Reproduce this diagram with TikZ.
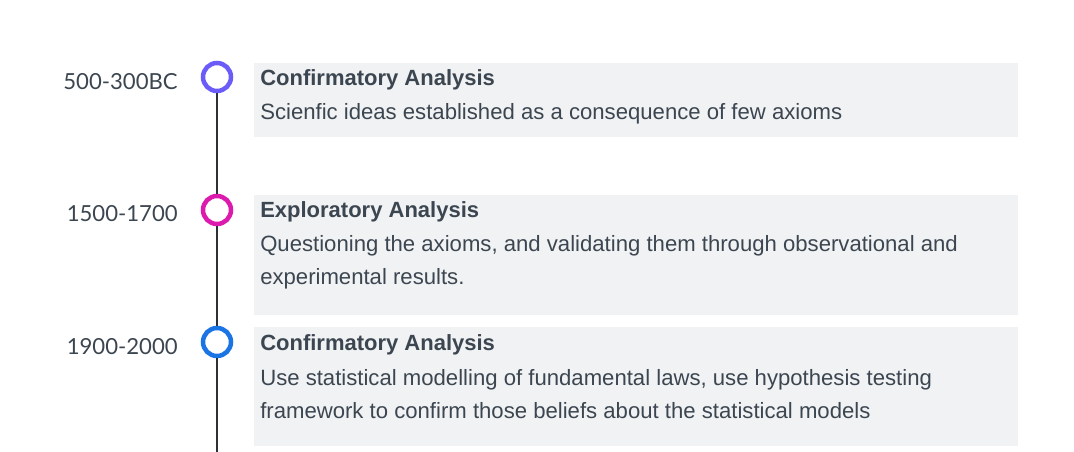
\documentclass[tikz,border=0pt]{standalone}
\usepackage{fontspec}
\setmainfont{Liberation Sans}
\newfontfamily\yearfont{Lato}
\usepackage{xcolor}
\usepackage{tikz}

\definecolor{txtgray}{HTML}{3C4650}
\definecolor{boxgray}{HTML}{F1F2F4}
\definecolor{dotviolet}{HTML}{6B5CFA}
\definecolor{dotmagenta}{HTML}{DC1AAE}
\definecolor{dotblue}{HTML}{1B74E4}

\tikzset{
	dot/.style={circle,draw=#1,line width=4.5*0.75pt,fill=white,minimum size=28*0.75pt,inner sep=0pt},
	yearlbl/.style={anchor=base east,inner sep=0pt,text=txtgray,font=\yearfont\fontsize{16.6}{20}\selectfont},
	eventbox/.style={fill=boxgray,anchor=north west,inner sep=0pt,minimum width=764*0.75pt,minimum height=#1*0.75pt},
	headlbl/.style={anchor=base west,inner sep=0pt,text=txtgray,font=\bfseries\fontsize{16.5}{20}\selectfont},
	bodylbl/.style={anchor=base west,inner sep=0pt,text=txtgray,font=\fontsize{16.6}{20}\selectfont}
}

\begin{document}
\begin{tikzpicture}[x=0.75pt,y=-0.75pt]
	\useasboundingbox (0,0) rectangle (1074,452);
	
	% boxes
	\node[eventbox=74] (box1) at (254,63) {};
	\node[eventbox=120] (box2) at (254,195) {};
	\node[eventbox=119] (box3) at (254,327) {};
	
	% timeline
	\node[dot=dotviolet] (c1) at (217,77) {};
	\node[dot=dotmagenta] (c2) at (217,210) {};
	\node[dot=dotblue] (c3) at (217,342) {};
	\coordinate (tend) at (217,452);
	\draw[line width=2*0.75pt,txtgray!70!black] (c1) -- (c2) (c2) -- (c3) (c3) -- (tend);
	
	% years
	\node[yearlbl] (y1) at (178,90) {500-300BC};
	\node[yearlbl] (y2) at (178,222) {1500-1700};
	\node[yearlbl] (y3) at (178,354) {1900-2000};
	
	% texts
	\node[headlbl] (h1) at (260,86) {Confirmatory Analysis};
	\node[bodylbl] (b1) at (260,120) {Scienfic ideas established as a consequence of few axioms};
	
	\node[headlbl] (h2) at (260,218) {Exploratory Analysis};
	\node[bodylbl] (b2a) at (260,252) {Questioning the axioms, and validating them through observational and};
	\node[bodylbl] (b2b) at (260,285) {experimental results.};
	
	\node[headlbl] (h3) at (260,350) {Confirmatory Analysis};
	\node[bodylbl] (b3a) at (260,385) {Use statistical modelling of fundamental laws, use hypothesis testing};
	\node[bodylbl] (b3b) at (260,418) {framework to confirm those beliefs about the statistical models};
\end{tikzpicture}
\end{document}
